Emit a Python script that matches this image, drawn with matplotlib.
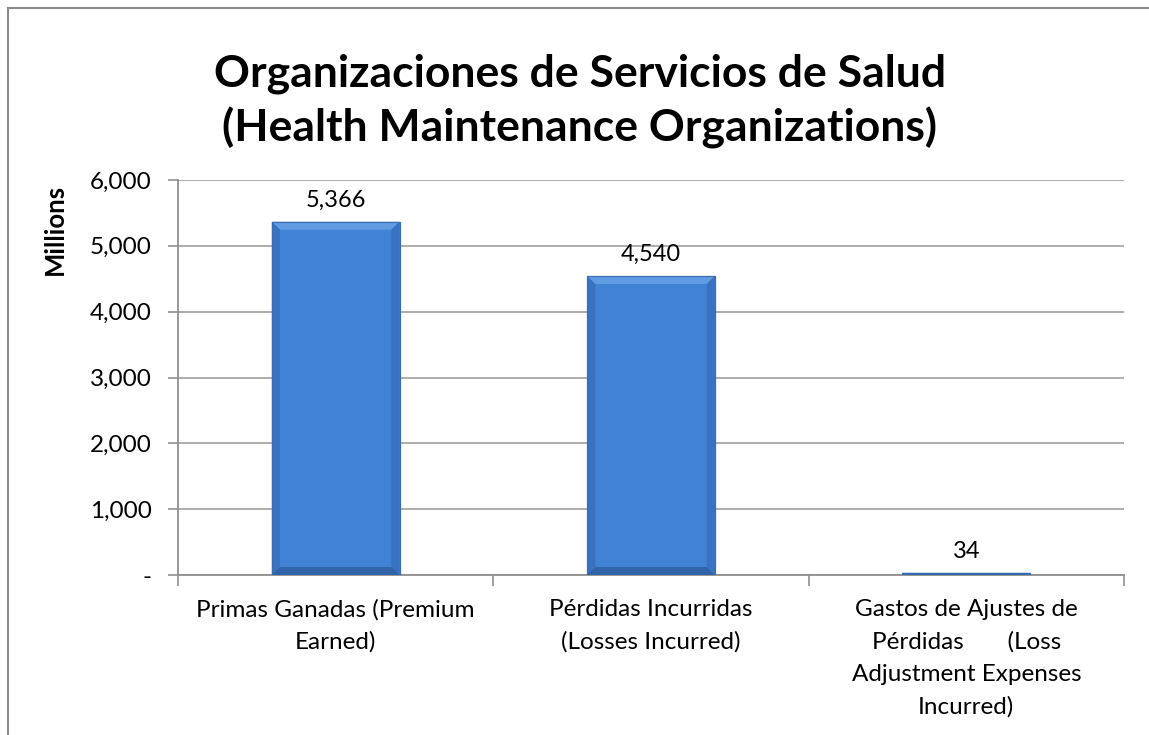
import matplotlib
matplotlib.use("Agg")
import matplotlib.pyplot as plt
import numpy as np
from matplotlib.patches import Polygon
from matplotlib.lines import Line2D

plt.rcParams['font.family'] = ['Lato', 'DejaVu Sans']

# data
categories = ["Primas Ganadas (Premium\nEarned)",
              "Pérdidas Incurridas\n(Losses Incurred)",
              "Gastos de Ajustes de\nPérdidas       (Loss\nAdjustment Expenses\nIncurred)"]
values = [5366, 4540, 34]
yticks = [0, 1000, 2000, 3000, 4000, 5000, 6000]
title = "Organizaciones de Servicios de Salud\n(Health Maintenance Organizations)"

W, H = 1149, 735
fig = plt.figure(figsize=(W / 100, H / 100), dpi=100)
ax = fig.add_axes([178 / W, 1 - 575 / H, (1124 - 178) / W, (575 - 180) / H])

x = np.arange(len(values))
bars = ax.bar(x, values, width=0.405, color='#4182d4', edgecolor='#3a6cae', linewidth=0.8, zorder=3)

# excel-ish bevel drawn as four trapezoids on each bar
bx, by = 0.026, 120
for b in bars:
    x0, x1 = b.get_x(), b.get_x() + b.get_width()
    y0, y1 = 0, b.get_height()
    dy = min(by, (y1 - y0) / 2)
    ix0, ix1, iy0, iy1 = x0 + bx, x1 - bx, y0 + dy, y1 - dy
    faces = [
        ([(x0, y1), (x1, y1), (ix1, iy1), (ix0, iy1)], '#619be2'),   # top
        ([(x0, y0), (x0, y1), (ix0, iy1), (ix0, iy0)], '#3872c0'),   # left
        ([(x1, y0), (x1, y1), (ix1, iy1), (ix1, iy0)], '#3872c0'),   # right
        ([(x0, y0), (x1, y0), (ix1, iy0), (ix0, iy0)], '#3063a8'),   # bottom
    ]
    for pts, c in faces:
        ax.add_patch(Polygon(pts, closed=True, facecolor=c, edgecolor='none', zorder=3.5))
    ax.add_patch(Polygon([(x0, y0), (x1, y0), (x1, y1), (x0, y1)], closed=True,
                         facecolor='none', edgecolor='#3a6cae', linewidth=0.8, zorder=3.6))

for xi, v in zip(x, values):
    ax.text(xi, v + 170, f"{v:,}", ha='center', va='bottom', fontsize=17)

ax.set_xlim(-0.5, len(values) - 0.5)
ax.set_ylim(0, 6000)
ax.set_yticks(yticks)
ax.set_yticklabels(["-" if t == 0 else f"{t:,}" for t in yticks], fontsize=17.5)
ax.set_xticks(x)
ax.set_xticklabels(categories, fontsize=17.5, linespacing=1.65)
ax.tick_params(axis='x', length=0, pad=17)
ax.tick_params(axis='y', length=7, width=1.2, color='#909090', pad=12)
# category boundary ticks
ax.set_xticks(np.arange(-0.5, len(values), 1), minor=True)
ax.tick_params(axis='x', which='minor', length=8, width=1.2, color='#909090')

ax.grid(axis='y', color='#a6a6a6', linewidth=1.3, zorder=0)
for s in ['top', 'right']:
    ax.spines[s].set_visible(False)
ax.spines['left'].set_color('#909090')
ax.spines['bottom'].set_color('#909090')
ax.spines['left'].set_linewidth(1.3)
ax.spines['bottom'].set_linewidth(1.3)

ax.set_ylabel("Millions", fontsize=18.5, fontweight='bold')
ax.yaxis.set_label_coords(-0.117, 0.876)

fig.text(580 / W, 1 - 101 / H, title, ha='center', va='center',
         fontsize=32, fontweight='bold', linespacing=1.38)

# chart area border (cropped on right and bottom)
fig.add_artist(Line2D([7.5 / W, 7.5 / W], [0, 1 - 7.5 / H], transform=fig.transFigure,
                      color='#8c8c8c', lw=1.5))
fig.add_artist(Line2D([7.5 / W, 1], [1 - 7.5 / H, 1 - 7.5 / H], transform=fig.transFigure,
                      color='#8c8c8c', lw=1.5))

fig.savefig("out.png", dpi=100)
